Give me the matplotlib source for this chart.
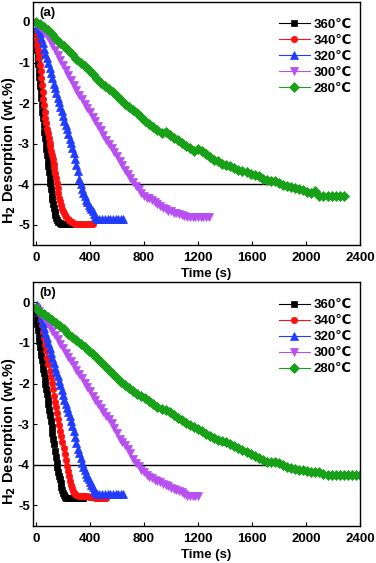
import matplotlib
matplotlib.use("Agg")
import matplotlib.pyplot as plt

plt.rcParams['font.family'] = ['Liberation Sans', 'DejaVu Sans']
plt.rcParams['font.weight'] = 'bold'
plt.rcParams['axes.labelweight'] = 'bold'
plt.rcParams['axes.unicode_minus'] = False

# (time s, desorbed wt.%)
# ---- panel (a) ----
c360a = [(0, -0.30), (4, -0.50), (8, -0.68), (12, -0.87), (16, -1.04), (20, -1.20), (24, -1.35),
         (28, -1.47), (32, -1.58), (36, -1.73), (40, -1.88), (44, -2.04), (48, -2.21), (52, -2.38),
         (57, -2.55), (62, -2.72), (67, -2.87), (72, -3.01), (77, -3.14), (82, -3.28), (87, -3.42),
         (92, -3.55), (97, -3.70), (102, -3.84), (107, -3.98), (112, -4.12), (117, -4.25),
         (122, -4.37), (127, -4.48), (132, -4.58), (137, -4.68), (143, -4.76), (150, -4.84),
         (158, -4.89), (166, -4.93), (175, -4.95), (185, -4.97), (197, -4.97), (210, -4.97),
         (222, -4.97), (235, -4.97), (248, -4.97), (260, -4.97)]
c340a = [(0, -0.30), (5, -0.45), (10, -0.58), (15, -0.70), (20, -0.78), (25, -0.90), (30, -1.05),
         (35, -1.20), (40, -1.38), (45, -1.55), (50, -1.72), (55, -1.90), (60, -2.05), (65, -2.21),
         (70, -2.36), (76, -2.50), (82, -2.63), (88, -2.75), (94, -2.86), (100, -2.98), (106, -3.07),
         (112, -3.17), (118, -3.27), (124, -3.38), (130, -3.50), (136, -3.61), (142, -3.73),
         (148, -3.85), (154, -3.98), (160, -4.10), (166, -4.22), (172, -4.33), (178, -4.42),
         (185, -4.51), (192, -4.60), (200, -4.67), (208, -4.72), (216, -4.76), (225, -4.80),
         (235, -4.85), (245, -4.89), (255, -4.92), (265, -4.94), (275, -4.96), (290, -4.97),
         (305, -4.97), (320, -4.97), (335, -4.97), (350, -4.97), (365, -4.97), (380, -4.97),
         (395, -4.97), (410, -4.97), (425, -4.97)]
c320a = [(10, -0.10), (20, -0.17), (30, -0.27), (40, -0.40), (50, -0.53), (60, -0.66), (70, -0.78),
         (80, -0.89), (90, -1.01), (100, -1.13), (110, -1.26), (120, -1.39), (130, -1.52),
         (140, -1.64), (150, -1.76), (160, -1.87), (170, -1.98), (180, -2.09), (190, -2.20),
         (200, -2.31), (210, -2.43), (220, -2.54), (230, -2.65), (240, -2.77), (250, -2.88),
         (260, -2.99), (270, -3.11), (280, -3.24), (290, -3.38), (300, -3.52), (310, -3.68),
         (320, -3.86), (330, -4.00), (340, -4.12), (350, -4.22), (360, -4.30), (370, -4.38),
         (380, -4.45), (390, -4.52), (400, -4.57), (410, -4.62), (420, -4.67), (430, -4.74),
         (440, -4.81), (450, -4.86), (470, -4.86), (490, -4.86), (510, -4.86), (530, -4.86),
         (550, -4.86), (570, -4.86), (590, -4.86), (610, -4.86), (630, -4.86), (645, -4.86)]
c300a = [(0, -0.05), (20, -0.10), (40, -0.15), (60, -0.25), (80, -0.35), (100, -0.45), (120, -0.56),
         (140, -0.69), (160, -0.81), (180, -0.93), (200, -1.06), (220, -1.18), (240, -1.31),
         (260, -1.44), (280, -1.56), (300, -1.68), (320, -1.79), (340, -1.91), (360, -2.02),
         (380, -2.13), (400, -2.23), (420, -2.34), (440, -2.45), (460, -2.56), (480, -2.67),
         (500, -2.78), (520, -2.90), (540, -3.00), (560, -3.10), (580, -3.20), (600, -3.30),
         (620, -3.42), (640, -3.53), (660, -3.64), (680, -3.74), (700, -3.84), (720, -3.95),
         (740, -4.04), (760, -4.13), (780, -4.22), (800, -4.29), (820, -4.33), (840, -4.34),
         (860, -4.38), (880, -4.43), (900, -4.48), (920, -4.54), (940, -4.59), (960, -4.62),
         (980, -4.65), (1000, -4.67), (1020, -4.70), (1040, -4.71), (1060, -4.73), (1080, -4.76),
         (1100, -4.79), (1120, -4.80), (1140, -4.80), (1160, -4.80), (1180, -4.80), (1200, -4.80),
         (1220, -4.80), (1240, -4.80), (1260, -4.80), (1280, -4.80)]
c280a = [(0, 0.00), (30, -0.06), (60, -0.13), (90, -0.21), (120, -0.30), (150, -0.41), (180, -0.51),
         (210, -0.60), (240, -0.70), (270, -0.80), (300, -0.91), (330, -1.00), (360, -1.08),
         (390, -1.19), (420, -1.29), (450, -1.40), (480, -1.50), (510, -1.58), (540, -1.65),
         (570, -1.73), (600, -1.82), (630, -1.92), (660, -2.02), (690, -2.10), (720, -2.17),
         (750, -2.25), (780, -2.34), (810, -2.43), (840, -2.52), (870, -2.60), (900, -2.67),
         (930, -2.73), (960, -2.71), (990, -2.78), (1020, -2.85), (1050, -2.92), (1080, -2.99),
         (1110, -3.06), (1140, -3.12), (1170, -3.17), (1200, -3.13), (1230, -3.18), (1260, -3.25),
         (1290, -3.33), (1320, -3.40), (1350, -3.44), (1380, -3.49), (1410, -3.53), (1440, -3.55),
         (1470, -3.59), (1500, -3.64), (1530, -3.67), (1560, -3.70), (1590, -3.75), (1620, -3.78),
         (1650, -3.81), (1680, -3.86), (1710, -3.90), (1740, -3.91), (1770, -3.93), (1800, -3.98),
         (1830, -4.03), (1860, -4.05), (1890, -4.07), (1920, -4.10), (1950, -4.11), (1980, -4.15),
         (2010, -4.19), (2040, -4.22), (2070, -4.17), (2100, -4.30), (2130, -4.30), (2160, -4.30),
         (2190, -4.30), (2220, -4.30), (2250, -4.30), (2280, -4.30)]

# ---- panel (b) ----
c360b = [(0, -0.25), (5, -0.40), (10, -0.54), (15, -0.68), (20, -0.82), (25, -0.96), (30, -1.09),
         (35, -1.20), (40, -1.30), (45, -1.41), (50, -1.52), (55, -1.63), (60, -1.75), (65, -1.87),
         (70, -2.00), (75, -2.13), (80, -2.25), (86, -2.38), (92, -2.51), (98, -2.64), (104, -2.78),
         (110, -2.93), (116, -3.08), (122, -3.23), (128, -3.36), (134, -3.50), (140, -3.65),
         (146, -3.80), (152, -3.95), (158, -4.06), (164, -4.17), (170, -4.27), (176, -4.36),
         (182, -4.45), (188, -4.54), (194, -4.63), (200, -4.70), (208, -4.75), (216, -4.79),
         (225, -4.82), (235, -4.83), (250, -4.83), (265, -4.83), (280, -4.83), (295, -4.83),
         (310, -4.83), (325, -4.83), (340, -4.83), (350, -4.83)]
c340b = [(0, -0.15), (10, -0.20), (20, -0.25), (28, -0.30), (36, -0.42), (44, -0.56), (52, -0.72),
         (60, -0.88), (68, -1.04), (76, -1.20), (84, -1.36), (92, -1.52), (100, -1.68), (108, -1.84),
         (116, -1.99), (124, -2.14), (132, -2.30), (140, -2.45), (148, -2.59), (156, -2.73),
         (164, -2.87), (172, -3.01), (180, -3.16), (188, -3.30), (196, -3.45), (204, -3.59),
         (212, -3.73), (220, -3.88), (228, -4.02), (236, -4.16), (244, -4.28), (252, -4.40),
         (260, -4.50), (268, -4.58), (276, -4.65), (284, -4.70), (292, -4.73), (300, -4.75),
         (315, -4.76), (330, -4.76), (345, -4.77), (360, -4.77), (375, -4.78), (390, -4.79),
         (405, -4.80), (420, -4.80), (435, -4.82), (450, -4.83), (465, -4.83), (480, -4.83),
         (495, -4.83), (510, -4.83), (520, -4.83)]
c320b = [(10, -0.06), (20, -0.12), (30, -0.25), (40, -0.38), (50, -0.51), (60, -0.63), (70, -0.76),
         (80, -0.88), (90, -1.00), (100, -1.12), (110, -1.25), (120, -1.38), (130, -1.50),
         (140, -1.61), (150, -1.72), (160, -1.82), (170, -1.93), (180, -2.04), (190, -2.16),
         (200, -2.28), (210, -2.40), (220, -2.50), (230, -2.60), (240, -2.70), (250, -2.80),
         (260, -2.92), (270, -3.05), (280, -3.18), (290, -3.32), (300, -3.46), (310, -3.60),
         (320, -3.72), (330, -3.84), (340, -3.95), (350, -4.05), (360, -4.13), (370, -4.22),
         (380, -4.30), (390, -4.36), (400, -4.42), (410, -4.49), (420, -4.55), (430, -4.62),
         (440, -4.68), (450, -4.72), (470, -4.72), (490, -4.72), (510, -4.72), (530, -4.72),
         (550, -4.72), (570, -4.72), (590, -4.72), (610, -4.72), (630, -4.72), (645, -4.72)]
c300b = [(0, -0.15), (20, -0.21), (40, -0.29), (60, -0.38), (80, -0.49), (100, -0.60), (120, -0.70),
         (140, -0.80), (160, -0.91), (180, -1.02), (200, -1.13), (220, -1.24), (240, -1.35),
         (260, -1.45), (280, -1.55), (300, -1.66), (320, -1.76), (340, -1.87), (360, -1.98),
         (380, -2.09), (400, -2.19), (420, -2.30), (440, -2.40), (460, -2.50), (480, -2.60),
         (500, -2.69), (520, -2.79), (540, -2.88), (560, -2.98), (580, -3.10), (600, -3.22),
         (620, -3.36), (640, -3.45), (660, -3.52), (680, -3.61), (700, -3.72), (720, -3.85),
         (740, -3.95), (760, -4.04), (780, -4.12), (800, -4.19), (820, -4.25), (840, -4.30),
         (860, -4.33), (880, -4.37), (900, -4.40), (920, -4.43), (940, -4.47), (960, -4.50),
         (980, -4.53), (1000, -4.57), (1020, -4.60), (1040, -4.63), (1060, -4.65), (1080, -4.68),
         (1100, -4.73), (1120, -4.77), (1140, -4.78), (1160, -4.78), (1180, -4.78), (1200, -4.78)]
c280b = [(0, -0.15), (30, -0.23), (60, -0.29), (90, -0.35), (120, -0.44), (150, -0.51), (180, -0.58),
         (210, -0.66), (240, -0.77), (270, -0.85), (300, -0.94), (330, -1.03), (360, -1.10),
         (390, -1.19), (420, -1.28), (450, -1.38), (480, -1.47), (510, -1.57), (540, -1.66),
         (570, -1.76), (600, -1.86), (630, -1.95), (660, -2.03), (690, -2.10), (720, -2.18),
         (750, -2.25), (780, -2.30), (810, -2.35), (840, -2.42), (870, -2.50), (900, -2.57),
         (930, -2.62), (960, -2.65), (990, -2.70), (1020, -2.78), (1050, -2.85), (1080, -2.90),
         (1110, -2.96), (1140, -3.02), (1170, -3.08), (1200, -3.12), (1230, -3.18), (1260, -3.24),
         (1290, -3.30), (1320, -3.35), (1350, -3.39), (1380, -3.42), (1410, -3.45), (1440, -3.48),
         (1470, -3.53), (1500, -3.58), (1530, -3.64), (1560, -3.69), (1590, -3.73), (1620, -3.78),
         (1650, -3.83), (1680, -3.88), (1710, -3.92), (1740, -3.94), (1770, -3.94), (1800, -3.95),
         (1830, -4.01), (1860, -4.05), (1890, -4.08), (1920, -4.10), (1950, -4.12), (1980, -4.14),
         (2010, -4.16), (2040, -4.17), (2070, -4.17), (2100, -4.19), (2130, -4.22), (2160, -4.25),
         (2190, -4.25), (2220, -4.25), (2250, -4.25), (2280, -4.25), (2310, -4.25), (2340, -4.25),
         (2370, -4.25), (2400, -4.25)]

labels = ['360℃', '340℃', '320℃', '300℃', '280℃']
colors = ['#000000', '#ff1010', '#1f3cff', '#b84ff0', '#18a018']
markers = ['s', 'o', '^', 'v', 'D']
msizes = [4.2, 4.6, 5.4, 5.6, 4.8]

panel_tags = ['(a)', '(b)']
ref_level = -4
ref_end = [1745, 1725]
xticks = [0, 400, 800, 1200, 1600, 2000, 2400]
yticks = [0, -1, -2, -3, -4, -5]

panels = [[c360a, c340a, c320a, c300a, c280a],
          [c360b, c340b, c320b, c300b, c280b]]

fig = plt.figure(figsize=(3.76, 5.63), dpi=100)
rects = [[0.0886, 0.5648, 0.8686, 0.4322], [0.0886, 0.0663, 0.8686, 0.4328]]

for k, rect in enumerate(rects):
    ax = fig.add_axes(rect)
    ax.hlines(ref_level, -20, ref_end[k], color='black', lw=1.0, zorder=1)
    for curve, lab, c, m, ms in zip(panels[k], labels, colors, markers, msizes):
        t = [p[0] for p in curve]
        h = [p[1] for p in curve]
        ax.plot(t, h, color=c, marker=m, markersize=ms, markeredgecolor=c,
                markeredgewidth=0.5, lw=0.8, label=lab)
    ax.set_xlim(-20, 2400)
    ax.set_ylim(-5.5, 0.5)
    ax.set_xticks(xticks)
    ax.set_yticks(yticks)
    ax.tick_params(direction='in', length=3, width=0.8, labelsize=9.5)
    ax.tick_params(axis='x', pad=5)
    ax.tick_params(axis='y', pad=2.5)
    for s in ax.spines.values():
        s.set_linewidth(1.0)
    ax.set_xlabel('Time (s)', fontsize=9.5)
    ax.xaxis.set_label_coords(0.529, -0.095)
    ax.set_ylabel('H$_\\mathbf{2}$ Desorption (wt.%)', fontsize=10.5)
    ax.yaxis.set_label_coords(-0.047, 0.39)
    ax.text(0.02, 0.955, panel_tags[k], transform=ax.transAxes, ha='left', va='center',
            fontsize=9.5, fontweight='bold')
    ax.legend(loc='upper right', bbox_to_anchor=(1.0, 0.962), frameon=False,
              handlelength=2.3, handletextpad=0.3, labelspacing=0.28, fontsize=9.5,
              borderaxespad=0.2)

fig.savefig('out.png', dpi=100)
